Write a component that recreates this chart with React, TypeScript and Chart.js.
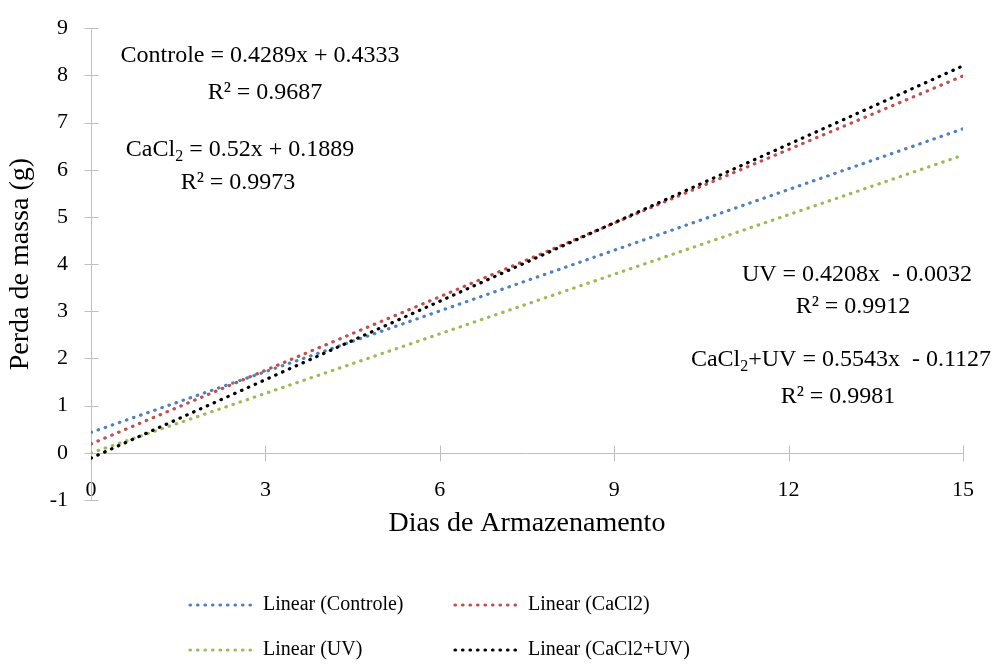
import React, { useEffect, useRef } from "react";
import { Chart, registerables } from "chart.js";

Chart.register(...registerables);

// ---- data ----
const seriesNames = ["Linear (Controle)", "Linear (CaCl2)", "Linear (UV)", "Linear (CaCl2+UV)"];
const dayEnds = [0, 15];
const controleLine = [0.4333, 6.867];
const cacl2Line = [0.1889, 7.9889];
const uvLine = [-0.0032, 6.3088];
const cacl2uvLine = [-0.1127, 8.2018];
const xTickValues = [0, 3, 6, 9, 12, 15];
const yTickValues = [-1, 0, 1, 2, 3, 4, 5, 6, 7, 8, 9];
const equationTexts = [
  [["Controle = 0.4289x + 0.4333", false]],
  [["R² = 0.9687", false]],
  [["CaCl", false], ["2", true], [" = 0.52x + 0.1889", false]],
  [["R² = 0.9973", false]],
  [["UV = 0.4208x  - 0.0032", false]],
  [["R² = 0.9912", false]],
  [["CaCl", false], ["2", true], ["+UV = 0.5543x  - 0.1127", false]],
  [["R² = 0.9981", false]],
];

// ---- styles ----
const FONT = "'Liberation Serif', 'Times New Roman', serif";
const COLORS = ["#4F81BD", "#C0504D", "#9BBB59", "#000000"];
const AXIS_COLOR = "#bfbfbf";
const DASH = [0.5, 7];
const LINE_W = 3.2;
const EQ_POS = [
  [260, 56], [265, 93], [240, 150], [238, 183],
  [857, 275], [853, 307], [841, 360], [838, 397],
];
const EQ_SIZE = 24;
const LEGEND_COLS = [190, 455];
const LEGEND_ROWS = [605, 650];
const LEGEND_SIZE = 20;

function drawRich(ctx: CanvasRenderingContext2D, parts: any[], cx: number, cy: number, size: number) {
  const main = `${size}px ${FONT}`;
  const sub = `${Math.round(size * 0.65)}px ${FONT}`;
  let total = 0;
  const widths = parts.map(([t, s]) => {
    ctx.font = s ? sub : main;
    const w = ctx.measureText(t).width;
    total += w;
    return w;
  });
  let x = cx - total / 2;
  ctx.textBaseline = "middle";
  ctx.textAlign = "left";
  parts.forEach(([t, s], i) => {
    ctx.font = s ? sub : main;
    ctx.fillText(t, x, s ? cy + size * 0.3 : cy);
    x += widths[i];
  });
}

const decorPlugin = {
  id: "decor",
  beforeDatasetsDraw(chart: any) {
    const { ctx, scales } = chart;
    const x = scales.x;
    const y = scales.y;
    ctx.save();
    ctx.strokeStyle = AXIS_COLOR;
    ctx.lineWidth = 1;
    const x0 = Math.round(x.getPixelForValue(0)) + 0.5;
    const y0 = Math.round(y.getPixelForValue(0)) + 0.5;
    ctx.beginPath();
    ctx.moveTo(x0, y.getPixelForValue(9));
    ctx.lineTo(x0, y.getPixelForValue(-1));
    ctx.moveTo(x0, y0);
    ctx.lineTo(x.getPixelForValue(15), y0);
    yTickValues.forEach((v) => {
      const py = Math.round(y.getPixelForValue(v)) + 0.5;
      ctx.moveTo(x0 - 7, py);
      ctx.lineTo(x0 + 7, py);
    });
    xTickValues.forEach((v) => {
      const px = Math.round(x.getPixelForValue(v)) + 0.5;
      ctx.moveTo(px, y0 - 8);
      ctx.lineTo(px, y0 + 8);
    });
    ctx.stroke();
    ctx.restore();
  },
  afterDraw(chart: any) {
    const { ctx } = chart;
    ctx.save();
    ctx.fillStyle = "#000";
    equationTexts.forEach((parts, i) => {
      drawRich(ctx, parts, EQ_POS[i][0], EQ_POS[i][1], EQ_SIZE);
    });
    // legend (2 x 2 grid)
    chart.data.datasets.forEach((ds: any, i: number) => {
      const col = i % 2;
      const row = Math.floor(i / 2);
      const lx = LEGEND_COLS[col];
      const ly = LEGEND_ROWS[row];
      ctx.save();
      ctx.strokeStyle = ds.borderColor;
      ctx.lineWidth = LINE_W;
      ctx.lineCap = "round";
      ctx.setLineDash(DASH);
      ctx.beginPath();
      ctx.moveTo(lx, ly);
      ctx.lineTo(lx + 62, ly);
      ctx.stroke();
      ctx.restore();
      ctx.font = `${LEGEND_SIZE}px ${FONT}`;
      ctx.textBaseline = "middle";
      ctx.textAlign = "left";
      ctx.fillStyle = "#000";
      ctx.fillText(ds.label, lx + 73, ly);
    });
    ctx.restore();
  },
};

export default function App() {
  const canvasRef = useRef<HTMLCanvasElement | null>(null);

  useEffect(() => {
    if (!canvasRef.current) return;
    const mk = (vals: number[]) => dayEnds.map((d, i) => ({ x: d, y: vals[i] }));
    const seriesValues = [controleLine, cacl2Line, uvLine, cacl2uvLine];
    const datasets = seriesNames.map((name, i) => ({
      label: name,
      data: mk(seriesValues[i]),
      borderColor: COLORS[i],
      backgroundColor: COLORS[i],
      borderWidth: LINE_W,
      borderDash: DASH,
      borderCapStyle: "round" as const,
      pointRadius: 0,
      fill: false,
      order: i === 3 ? 0 : i + 1,
    }));
    const tickFont = { family: FONT, size: 22 };
    const chart = new Chart(canvasRef.current, {
      type: "line",
      data: { datasets },
      options: {
        animation: false,
        responsive: true,
        maintainAspectRatio: false,
        layout: { padding: { left: 0, top: 24, right: 34, bottom: 124 } },
        plugins: { legend: { display: false }, tooltip: { enabled: false } },
        scales: {
          x: {
            type: "linear",
            min: 0,
            max: 15,
            position: { y: 0 },
            afterBuildTicks: (s: any) => {
              s.ticks = xTickValues.map((v) => ({ value: v }));
            },
            ticks: { font: tickFont, color: "#000", padding: 16, maxRotation: 0 },
            grid: { display: false },
            border: { display: false },
          },
          xTitle: {
            type: "linear",
            axis: "x",
            min: 0,
            max: 15,
            position: "bottom",
            ticks: { display: false },
            grid: { display: false },
            border: { display: false },
            title: {
              display: true,
              text: "Dias de Armazenamento",
              font: { family: FONT, size: 28 },
              color: "#000",
              padding: { top: 0, bottom: 2 },
            },
            afterFit: (s: any) => {
              s.height = 42;
            },
          },
          y: {
            type: "linear",
            min: -1,
            max: 9,
            afterBuildTicks: (s: any) => {
              s.ticks = yTickValues.map((v) => ({ value: v }));
            },
            ticks: { font: tickFont, color: "#000", padding: 15 },
            grid: { display: false },
            border: { display: false },
            title: {
              display: true,
              text: "Perda de massa (g)",
              font: { family: FONT, size: 28 },
              color: "#000",
              padding: { top: 4, bottom: 0 },
            },
            afterFit: (s: any) => {
              s.width = 91;
            },
          },
        },
      },
      plugins: [decorPlugin],
    });
    return () => chart.destroy();
  }, []);

  return (
    <div style={{ position: "fixed", left: 0, top: 0, width: 997, height: 666, background: "#fff" }}>
      <canvas ref={canvasRef} />
    </div>
  );
}
